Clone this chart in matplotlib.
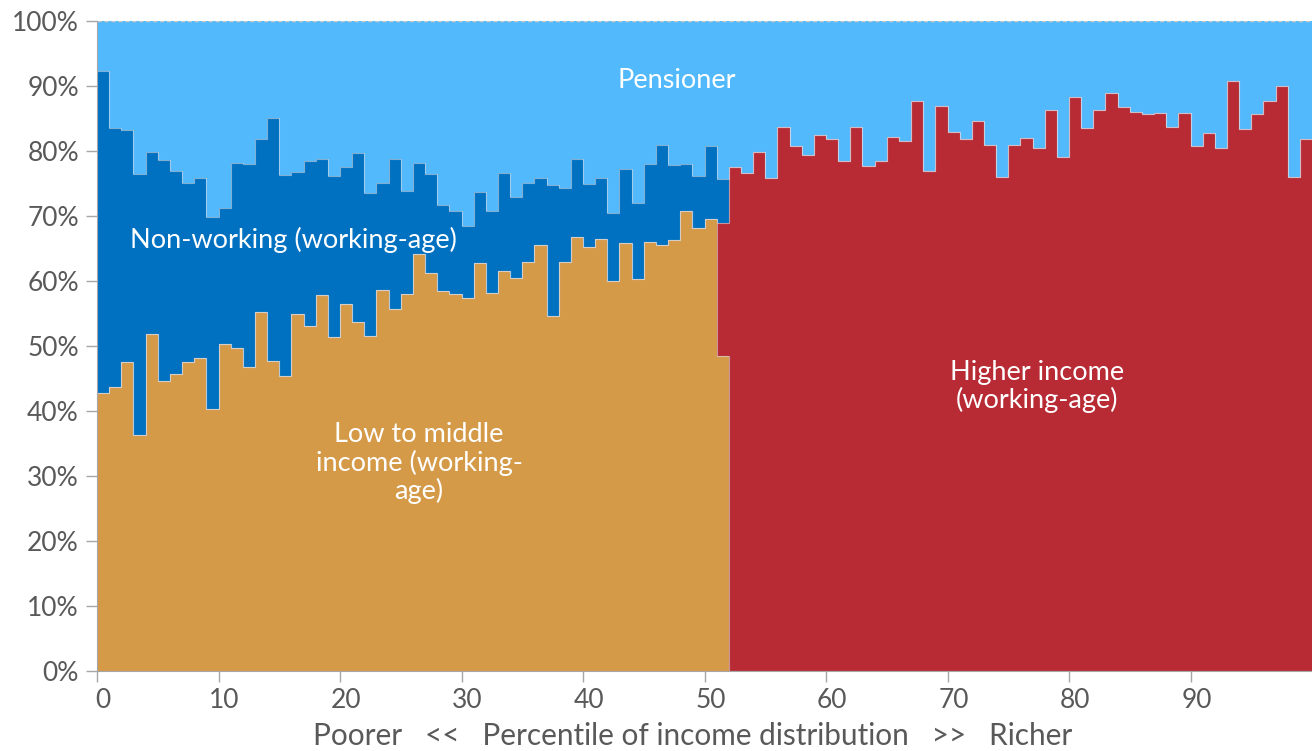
import numpy as np
import matplotlib
matplotlib.use("Agg")
import matplotlib.pyplot as plt

plt.rcParams['font.family'] = ['Lato', 'DejaVu Sans']

# shares (%) per income percentile
# low to middle income: percentiles 0..51
low_mid = [42.8, 43.7, 47.6, 36.3, 51.8, 44.6, 45.7, 47.6, 48.2, 40.3,
           50.3, 49.7, 46.8, 55.2, 47.7, 45.4, 55.0, 53.1, 57.8, 51.4,
           56.5, 53.7, 51.6, 58.6, 55.7, 58.0, 64.2, 61.2, 58.5, 58.0,
           57.4, 62.8, 58.1, 61.5, 60.4, 63.0, 65.5, 54.6, 62.9, 66.8,
           65.3, 66.5, 60.0, 65.9, 60.3, 66.0, 65.5, 66.3, 70.7, 68.2,
           69.5, 48.4]
# higher income: percentiles 51..99
higher = [20.5, 77.5, 76.6, 79.9, 75.8, 83.7, 80.7, 79.4, 82.5,
          81.9, 78.5, 83.7, 77.7, 78.5, 82.1, 81.6, 87.7, 76.9, 87.0,
          82.9, 81.8, 84.6, 81.0, 76.0, 80.9, 82.0, 80.5, 86.3, 79.1,
          88.3, 83.6, 86.3, 89.0, 86.8, 86.0, 85.7, 85.9, 83.7, 85.9,
          80.8, 82.7, 80.5, 90.8, 83.4, 85.7, 87.7, 90.0, 76.0, 81.8]
# non-working (working-age): percentiles 0..51
non_working = [49.5, 39.8, 35.6, 40.2, 28.0, 34.0, 31.3, 27.5, 27.7, 29.5,
               20.9, 28.4, 31.2, 26.6, 37.4, 30.9, 21.8, 25.3, 21.0, 24.7,
               21.1, 26.0, 22.0, 16.5, 23.1, 15.8, 13.9, 15.3, 13.2, 12.8,
               11.1, 10.9, 12.7, 15.1, 12.5, 12.1, 10.3, 20.1, 11.4, 12.0,
               9.7, 9.3, 10.4, 11.3, 11.7, 12.0, 15.4, 11.5, 7.3, 7.9,
               11.3, 6.8]
# pensioner: percentiles 0..99
pensioner = [7.7, 16.5, 16.8, 23.5, 20.2, 21.4, 23.0, 24.9, 24.1, 30.2,
             28.8, 21.9, 22.0, 18.2, 14.9, 23.7, 23.2, 21.6, 21.2, 23.9,
             22.4, 20.3, 26.4, 24.9, 21.2, 26.2, 21.9, 23.5, 28.3, 29.2,
             31.5, 26.3, 29.2, 23.4, 27.1, 24.9, 24.2, 25.3, 25.7, 21.2,
             25.0, 24.2, 29.6, 22.8, 28.0, 22.0, 19.1, 22.2, 22.0, 23.9,
             19.2, 24.3, 22.5, 23.4, 20.1, 24.2, 16.3, 19.3, 20.6, 17.5,
             18.1, 21.5, 16.3, 22.3, 21.5, 17.9, 18.4, 12.3, 23.1, 13.0,
             17.1, 18.2, 15.4, 19.0, 24.0, 19.1, 18.0, 19.5, 13.7, 20.9,
             11.7, 16.4, 13.7, 11.0, 13.2, 14.0, 14.3, 14.1, 16.3, 14.1,
             19.2, 17.3, 19.5, 9.2, 16.6, 14.3, 12.3, 10.0, 24.0, 18.2]

n = len(pensioner)
edges = np.arange(n + 1)

def full(vals, start):
    arr = np.zeros(n)
    arr[start:start + len(vals)] = vals
    return arr

series = [
    (full(low_mid, 0), '#D49A48'),
    (full(higher, 51), '#B82B35'),
    (full(non_working, 0), '#0071C1'),
    (np.array(pensioner), '#52B9FC'),
]

fig = plt.figure(figsize=(13.12, 7.51), dpi=100)
ax = fig.add_axes([97 / 1312, 80 / 751, 1215 / 1312, 650 / 751])

bottom = np.zeros(n)
for vals, col in series:
    top = bottom + vals
    ax.stairs(top, edges, baseline=bottom, fill=True, color=col, lw=0)
    bottom = top
# thin light outlines along the top of each layer
bottom = np.zeros(n)
for vals, col in series[:-1]:
    top = bottom + vals
    ax.stairs(top, edges, baseline=None, color='#D8D8E0', lw=0.8, alpha=0.6)
    bottom = top

ax.axhline(100, color='#C8C8C8', lw=1, ls=(0, (3, 2)))

ax.set_xlim(0, 100)
ax.set_ylim(0, 100)

ax.set_yticks(np.arange(0, 101, 10))
ax.set_yticklabels([f'{v}%' for v in range(0, 101, 10)])
ax.set_xticks(np.arange(0, 100, 10))
ax.set_xticklabels([])
ax.set_xticks(np.arange(0, 100, 10) + 0.5, minor=True)
ax.set_xticklabels([str(v) for v in range(0, 100, 10)], minor=True)
ax.tick_params(axis='x', which='major', length=8, color='#A6A6A6', width=1)
ax.tick_params(axis='x', which='minor', length=0, pad=12)
ax.tick_params(axis='y', length=8, color='#A6A6A6', width=1, pad=5)
ax.tick_params(which='both', labelsize=19, labelcolor='#595959')

for s in ['top', 'right']:
    ax.spines[s].set_visible(False)
for s in ['left', 'bottom']:
    ax.spines[s].set_color('#A6A6A6')

txt = dict(color='white', fontsize=19.5, ha='center', va='center', linespacing=1.1)
ax.text(47.7, 90.9, 'Pensioner', **txt)
ax.text(16.2, 66.3, 'Non-working (working-age)', **txt)
ax.text(26.5, 32.0, 'Low to middle\nincome (working-\nage)', **txt)
ax.text(77.4, 43.8, 'Higher income\n(working-age)', **txt)

fig.text(693 / 1312, 1 - 736 / 751,
         'Poorer   <<   Percentile of income distribution   >>   Richer',
         ha='center', va='center', fontsize=21.4, color='#595959')

fig.savefig('out.png', dpi=100)
